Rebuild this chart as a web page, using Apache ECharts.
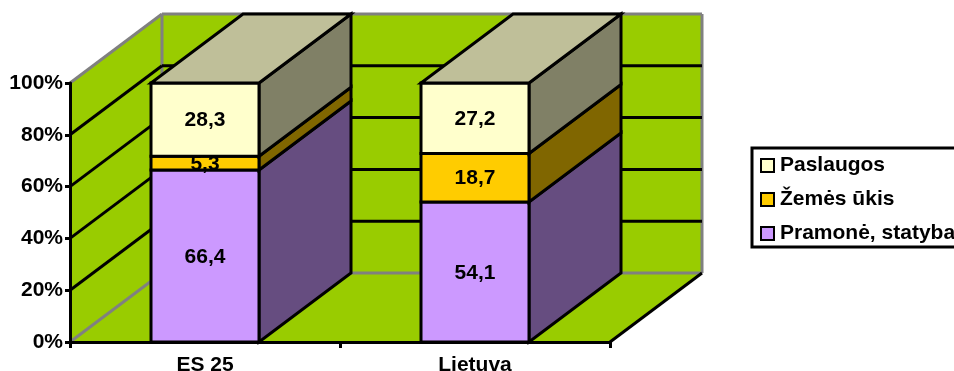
<!DOCTYPE html>
<html>
<head>
<meta charset="utf-8">
<style>html,body{margin:0;padding:0;background:#fff;overflow:hidden}#c{width:954px;height:371px}</style>
<script src="https://cdn.jsdelivr.net/npm/echarts@6/dist/echarts.min.js"></script>
</head>
<body>
<div id="c"></div>
<script>
// Employment shares by sector, stacked to 100 %
const categories = ['ES 25', 'Lietuva'];
const pramone = [66.4, 54.1];
const zemes = [5.3, 18.7];
const paslaugos = [28.3, 27.2];
const gridValues = [20, 40, 60, 80];
const valueTicks = [0, 20, 40, 60, 80, 100];

// Oblique projection of the depth axis, in pixels
const DX = 92, DY = -69;
const FONT = '"Liberation Sans", Arial, sans-serif';
const STROKE = '#000', EDGE = '#808080', WALL = '#99CC00';
const LW = 3;

function poly(points, fill, stroke, width) {
  return { type: 'polygon', shape: { points },
    style: { fill, stroke: stroke || 'none', lineWidth: width || 0, lineJoin: 'miter' } };
}
function line(a, b, stroke, width) {
  return { type: 'line', shape: { x1: a[0], y1: a[1], x2: b[0], y2: b[1] },
    style: { stroke, lineWidth: width, fill: 'none' } };
}
const back = p => [p[0] + DX, p[1] + DY];

// Side wall, back wall, floor and their edges
function renderWalls(params, api) {
  if (params.dataIndex !== 0) return;
  const c = params.coordSys;
  const fl = [c.x, c.y + c.height], fr = [c.x + c.width, c.y + c.height], tl = [c.x, c.y];
  const bfl = back(fl), bfr = back(fr), btl = back(tl), btr = [bfr[0], btl[1]];
  return { type: 'group', children: [
    poly([fl, tl, btl, bfl], WALL),
    poly([btl, btr, bfr, bfl], WALL),
    poly([fl, bfl, bfr, fr], WALL),
    line(fl, bfl, EDGE, LW),
    line(tl, btl, EDGE, LW),
    line(btl, bfl, EDGE, LW),
    line(btl, btr, EDGE, LW),
    line(btr, bfr, EDGE, LW),
    line(bfl, bfr, EDGE, LW),
    line(fr, bfr, STROKE, LW)
  ]};
}

// Depth-projected grid lines across side and back walls
function renderGrid(params, api) {
  const c = params.coordSys;
  const y = api.coord([0, api.value(0)])[1];
  const a = [c.x, y], b = back(a), e = [c.x + c.width + DX, b[1]];
  return { type: 'group', children: [line(a, b, STROKE, LW), line(b, e, STROKE, LW)] };
}

// One stacked block: front, side and, for the top layer, the lid
function makeBlock(front, side, lid) {
  return function (params, api) {
    const cat = api.value(0), val = api.value(1), base = api.value(2);
    const w = api.size([1, 0])[0] * 0.4;
    const cx = api.coord([cat, 0])[0];
    const y0 = api.coord([cat, base])[1], y1 = api.coord([cat, base + val])[1];
    const l = cx - w / 2, r = cx + w / 2;
    const children = [
      poly([[r, y0], [r, y1], back([r, y1]), back([r, y0])], side, STROKE, LW),
      poly([[l, y0], [r, y0], [r, y1], [l, y1]], front, STROKE, LW)
    ];
    if (lid) children.push(poly([[l, y1], [r, y1], back([r, y1]), back([l, y1])], lid, STROKE, LW));
    children.push({ type: 'text', z2: 10, style: {
      text: String(val).replace('.', ','), x: cx, y: (y0 + y1) / 2 + 1,
      align: 'center', verticalAlign: 'middle',
      font: 'bold 21px ' + FONT, fill: '#000' } });
    return { type: 'group', children };
  };
}

function layer(name, values, bases, front, side, lid) {
  return {
    name, type: 'custom', coordinateSystem: 'cartesian2d', z: 5, clip: false,
    itemStyle: { color: front, borderColor: STROKE, borderWidth: LW },
    encode: { x: 0, y: 1 },
    data: values.map((v, i) => [i, v, bases[i]]),
    renderItem: makeBlock(front, side, lid)
  };
}

const zemesBase = pramone;
const paslaugosBase = pramone.map((v, i) => v + zemes[i]);

const chart = echarts.init(document.getElementById('c'), null, { renderer: 'canvas' });
chart.setOption({
  animation: false,
  backgroundColor: '#fff',
  grid: { left: 70, right: 344, top: 83, bottom: 29, containLabel: false, outerBoundsMode: 'none' },
  xAxis: {
    type: 'category', data: categories, z: 10,
    axisLine: { lineStyle: { color: STROKE, width: LW } },
    axisTick: { show: true, alignWithLabel: false, length: 6, lineStyle: { color: STROKE, width: LW } },
    axisLabel: { color: '#000', fontWeight: 'bold', fontSize: 21, fontFamily: FONT, margin: 13, interval: 0 }
  },
  yAxis: {
    type: 'value', min: 0, max: 100, interval: 20, z: 10,
    axisLine: { show: true, lineStyle: { color: STROKE, width: LW } },
    axisTick: { show: true, length: 5, lineStyle: { color: STROKE, width: LW } },
    axisLabel: { color: '#000', fontWeight: 'bold', fontSize: 21, fontFamily: FONT, margin: 7,
      formatter: v => valueTicks.includes(v) ? v + '%' : '' },
    splitLine: { show: false }
  },
  legend: {
    orient: 'vertical', left: 752, top: 148, padding: [7, 30, 3, 8],
    itemWidth: 13, itemHeight: 13, itemGap: 13, selectedMode: false,
    borderColor: STROKE, borderWidth: 3, backgroundColor: '#fff',
    icon: 'rect',
    textStyle: { color: '#000', fontWeight: 'bold', fontSize: 21, fontFamily: FONT, padding: [0, 0, 0, 1] },
    data: ['Paslaugos', 'Žemės ūkis', 'Pramonė, statyba']
  },
  series: [
    { type: 'custom', name: 'walls', z: 1, silent: true, clip: false, data: [0], encode: { x: 0 },
      renderItem: renderWalls },
    { type: 'custom', name: 'grid', z: 2, silent: true, clip: false, data: gridValues.map(v => [v]), encode: { y: 0 },
      renderItem: renderGrid },
    layer('Pramonė, statyba', pramone, [0, 0], '#CC99FF', '#664D80'),
    layer('Žemės ūkis', zemes, zemesBase, '#FFCC00', '#806600'),
    layer('Paslaugos', paslaugos, paslaugosBase, '#FFFFCC', '#808066', '#BFBF99')
  ]
});
</script>
</body>
</html>
